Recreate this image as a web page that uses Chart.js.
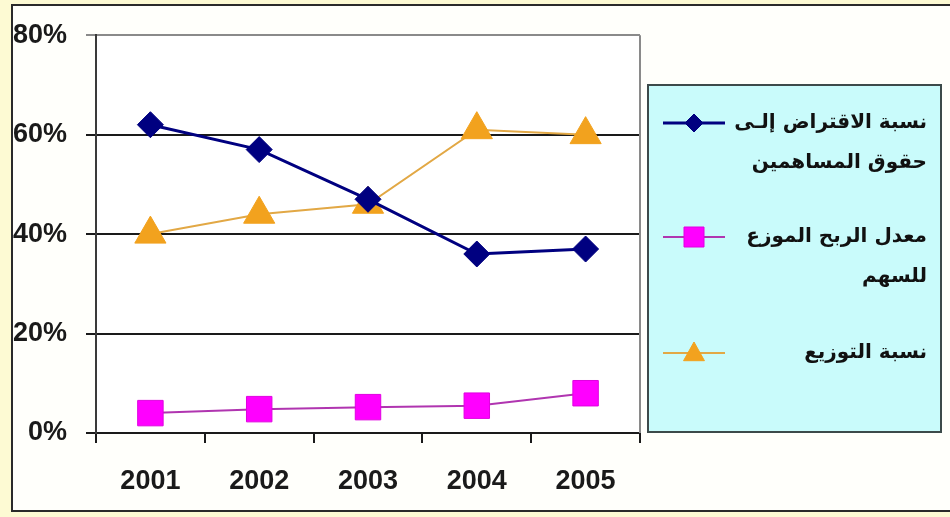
<!DOCTYPE html>
<html>
<head>
<meta charset="utf-8">
<script src="https://cdn.jsdelivr.net/npm/chart.js@4/dist/chart.umd.min.js"></script>
<style>
  html, body { margin: 0; padding: 0; background: #FDFAD3; }
  #wrap { position: absolute; left: 0; top: 0; width: 950px; height: 517px; }
</style>
</head>
<body>
<div id="wrap"><canvas id="c" width="950" height="517"></canvas></div>
<script>
// Years on the horizontal axis
const years = ['2001', '2002', '2003', '2004', '2005'];

// Ratios in percent
const debtToEquity = [62, 57, 47, 36, 37];        // نسبة الاقتراض إلى حقوق المساهمين
const dividendPerShare = [4, 4.8, 5.2, 5.5, 8];   // معدل الربح الموزع للسهم
const payoutRatio = [40, 44, 46, 61, 60];         // نسبة التوزيع

// Legend labels (each entry is a list of lines)
const seriesLabels = [
  ['نسبة الاقتراض إلـى', 'حقوق المساهمين'],
  ['معدل الربح الموزع', 'للسهم'],
  ['نسبة التوزيع']
];

const yTicks = [0, 20, 40, 60, 80];

const NAVY = '#000080';
const MAGENTA = '#FF00FF';
const ORANGE = '#F2A21E';

// Page frame: pale yellow margin, white sheet with a dark border
const framePlugin = {
  id: 'frame',
  beforeDraw(chart) {
    const ctx = chart.ctx;
    ctx.save();
    ctx.fillStyle = '#FDFAD3';
    ctx.fillRect(0, 0, chart.width, chart.height);
    ctx.fillStyle = '#FFFFFB';
    ctx.fillRect(12, 5, chart.width, 506);
    ctx.strokeStyle = '#2a2a2a';
    ctx.lineWidth = 2;
    ctx.beginPath();
    ctx.moveTo(chart.width + 2, 5);
    ctx.lineTo(12, 5);
    ctx.lineTo(12, 511);
    ctx.lineTo(chart.width + 2, 511);
    ctx.stroke();
    // white plot area
    const a = chart.chartArea;
    ctx.fillStyle = '#FFFFFF';
    ctx.fillRect(a.left, a.top, a.right - a.left, a.bottom - a.top);
    ctx.restore();
  },
  afterDatasetsDraw(chart) {
    // grey right edge of the plot area
    const ctx = chart.ctx;
    const a = chart.chartArea;
    ctx.save();
    ctx.strokeStyle = '#8a8a8a';
    ctx.lineWidth = 2;
    ctx.beginPath();
    ctx.moveTo(a.right, a.top);
    ctx.lineTo(a.right, a.bottom);
    ctx.stroke();
    ctx.restore();
  }
};

function drawMarker(ctx, style, r, x, y) {
  if (style === 'rectRot') {
    ctx.moveTo(x, y - r); ctx.lineTo(x + r, y); ctx.lineTo(x, y + r); ctx.lineTo(x - r, y); ctx.closePath();
  } else if (style === 'rect') {
    ctx.rect(x - r, y - r, 2 * r, 2 * r);
  } else {
    ctx.moveTo(x, y - r); ctx.lineTo(x + r * 0.95, y + r * 0.7); ctx.lineTo(x - r * 0.95, y + r * 0.7); ctx.closePath();
  }
}

// Boxed legend on the right with right-to-left labels
const boxLegend = {
  id: 'boxLegend',
  afterDraw(chart) {
    const ctx = chart.ctx;
    const box = { x: 648, y: 85, w: 293, h: 347 };
    ctx.save();
    ctx.fillStyle = '#C9FBFB';
    ctx.fillRect(box.x, box.y, box.w, box.h);
    ctx.strokeStyle = '#3c4a4a';
    ctx.lineWidth = 2;
    ctx.strokeRect(box.x, box.y, box.w, box.h);

    const rowsY = [123, 237, 353];
    const lineGap = 40;
    chart.data.datasets.forEach((ds, i) => {
      const y = rowsY[i];
      // sample line
      ctx.strokeStyle = ds.borderColor;
      ctx.lineWidth = ds.borderWidth;
      ctx.beginPath();
      ctx.moveTo(663, y);
      ctx.lineTo(725, y);
      ctx.stroke();
      // sample marker
      ctx.fillStyle = ds.pointBackgroundColor;
      ctx.strokeStyle = ds.pointBorderColor;
      ctx.lineWidth = 1;
      ctx.beginPath();
      drawMarker(ctx, ds.pointStyle, ds.legendRadius, 694, y);
      ctx.fill();
      ctx.stroke();
      // label lines
      ctx.fillStyle = '#111111';
      ctx.font = 'bold 20px "DejaVu Sans"';
      ctx.textAlign = 'right';
      ctx.textBaseline = 'middle';
      ctx.direction = 'rtl';
      seriesLabels[i].forEach((line, k) => {
        ctx.fillText(line, 927, y + k * lineGap);
      });
    });
    ctx.restore();
  }
};

const axisFont = { family: '"Liberation Sans", Arial, sans-serif', size: 27, weight: 'bold' };

new Chart(document.getElementById('c'), {
  type: 'line',
  data: {
    labels: years,
    datasets: [
      {
        label: seriesLabels[0].join(' '),
        data: debtToEquity,
        borderColor: NAVY,
        borderWidth: 3,
        pointStyle: 'rectRot',
        pointRadius: 13,
        pointHoverRadius: 13,
        pointBackgroundColor: NAVY,
        pointBorderColor: NAVY,
        pointBorderWidth: 1,
        legendRadius: 9,
        tension: 0
      },
      {
        label: seriesLabels[1].join(' '),
        data: dividendPerShare,
        borderColor: '#B035B0',
        borderWidth: 2,
        pointStyle: 'rect',
        pointRadius: 18,
        pointHoverRadius: 18,
        pointBackgroundColor: MAGENTA,
        pointBorderColor: '#E000E0',
        pointBorderWidth: 1,
        legendRadius: 10,
        tension: 0
      },
      {
        label: seriesLabels[2].join(' '),
        data: payoutRatio,
        borderColor: '#E2A845',
        borderWidth: 2,
        pointStyle: 'triangle',
        pointRadius: 18,
        pointHoverRadius: 18,
        pointBackgroundColor: ORANGE,
        pointBorderColor: ORANGE,
        pointBorderWidth: 1,
        legendRadius: 11,
        tension: 0
      }
    ]
  },
  options: {
    responsive: false,
    animation: false,
    events: [],
    layout: { padding: { left: 0, top: 33, right: 310, bottom: 24 } },
    plugins: {
      legend: { display: false },
      tooltip: { enabled: false }
    },
    scales: {
      x: {
        offset: true,
        grid: {
          offset: true,
          drawOnChartArea: false,
          drawTicks: true,
          tickLength: 10,
          color: '#1a1a1a',
          lineWidth: 2
        },
        border: { display: true, color: '#1a1a1a', width: 2 },
        ticks: { font: axisFont, color: '#1a1a1a', padding: 22, maxRotation: 0 },
        afterFit(scale) { scale.height = 60; }
      },
      y: {
        min: 0,
        max: 80,
        afterBuildTicks(scale) { scale.ticks = yTicks.map(v => ({ value: v })); },
        grid: {
          color: ctx => (ctx.tick && ctx.tick.value === 80 ? '#8a8a8a' : '#1a1a1a'),
          lineWidth: 2,
          tickLength: 10,
          drawTicks: true
        },
        border: { display: true, color: '#3a3a3a', width: 2 },
        ticks: {
          font: axisFont,
          color: '#1a1a1a',
          padding: 19,
          callback: v => v + '%'
        },
        afterFit(scale) { scale.width = 96; }
      }
    }
  },
  plugins: [framePlugin, boxLegend]
});
</script>
</body>
</html>
